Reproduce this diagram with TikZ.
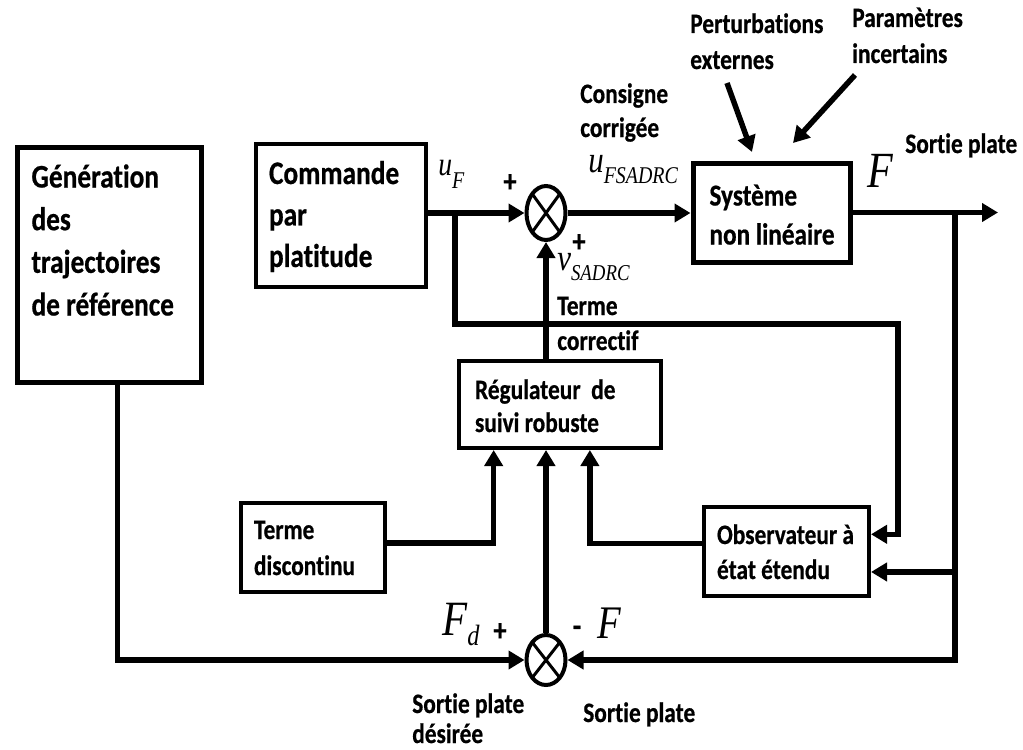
\documentclass[tikz,border=0pt]{standalone}
\usepackage{fontspec}
\usetikzlibrary{arrows.meta,shapes.geometric,calc}
\newfontfamily\calf{Carlito}[FakeStretch=0.83,Ligatures=NoCommon,FakeBold=0.6]
\newfontfamily\tmsf{Liberation Serif}[FakeStretch=0.83]
\newlength\px \setlength\px{0.75pt}
% box text: width, height, left pad, first-line strut, font, text
\newcommand\bxt[6]{\parbox[c][#2][t]{#1}{#5\leftskip=#3\relax\rule{0pt}{#4}#6}}
% multi-line label
\newcommand\tl[2]{\fontsize{21.1pt}{#1}\selectfont\begin{tabular}[t]{@{}l@{}}#2\end{tabular}}
% math-like label with subscript
\newcommand\msub[5]{{\tmsf\itshape\fontsize{#1}{#1}\selectfont #2\raisebox{-#5}{\fontsize{#3}{#3}\selectfont #4}}}
\tikzset{
  boxn/.style={draw, line width=3pt, inner sep=0pt, anchor=north west, font=\calf\bfseries},
  conn/.style={line width=4.1pt, -{Triangle[length=12pt,width=13.5pt]}},
  sumn/.style={ellipse, draw, line width=3pt, inner sep=0pt, minimum width=29.25pt,
    path picture={\draw[line width=2.25pt] (path picture bounding box.north west) -- (path picture bounding box.south east)
      (path picture bounding box.north east) -- (path picture bounding box.south west);}},
  lab/.style={anchor=base west, inner sep=0pt, font=\calf\bfseries},
  mlab/.style={anchor=base west, inner sep=0pt},
  pm/.style={inner sep=0pt, font=\calf\bfseries\fontsize{24pt}{24pt}\selectfont},
}
\begin{document}
\begin{tikzpicture}[x=0.75pt,y=-0.75pt]
\useasboundingbox[fill=white] (0,0) rectangle (1023,749);

% blocks
\node[boxn, line width=3.75pt] (gen) at (14.5,144.5)
  {\bxt{184\px}{235\px}{14.5\px}{40.5\px}{\fontsize{24.7pt}{32pt}\selectfont}{Génération\\des\\trajectoires\\de référence}};
\node[boxn] (cmd) at (254,142)
  {\bxt{170\px}{143\px}{13\px}{40\px}{\fontsize{24.7pt}{31.1pt}\selectfont}{Commande\\par\\platitude}};
\node[boxn, line width=3.75pt] (sys) at (690.5,160.5)
  {\bxt{157\px}{99\px}{16.5\px}{42.5\px}{\fontsize{22.8pt}{29.25pt}\selectfont}{Système\\non linéaire}};
\node[boxn] (reg) at (457,359)
  {\bxt{202\px}{87\px}{16\px}{38\px}{\fontsize{21.1pt}{24.75pt}\selectfont}{Régulateur\ \ de\\suivi robuste}};
\node[boxn] (disc) at (239,501)
  {\bxt{144\px}{89\px}{13\px}{36\px}{\fontsize{21.1pt}{27pt}\selectfont}{Terme\\discontinu}};
\node[boxn] (obs) at (702,505)
  {\bxt{165\px}{89\px}{13\px}{37\px}{\fontsize{21.1pt}{26.25pt}\selectfont}{Observateur à\\état étendu}};

% summing junctions
\node[sumn, minimum height=40.5pt] (s1) at (546,213) {};
\node[sumn, minimum height=37.5pt] (s2) at (546,660) {};

% helper points
\coordinate (b1) at (455,213);
\coordinate (c1) at (898,324);
\coordinate (oin1) at ($(obs.north east)!0.315!(obs.south east)$);
\coordinate (oin2) at ($(obs.north east)!0.72!(obs.south east)$);
\coordinate (b2) at (sys.east -| 955,0);
\coordinate (out) at (sys.east -| 998,0);
\coordinate (g1) at ($(gen.south west)!0.545!(gen.south east)$);
\coordinate (ow) at ($(obs.north west)!0.415!(obs.south west)$);
\coordinate (rin3) at ($(reg.south west)!0.645!(reg.south east)$);
\coordinate (tin) at ($(disc.north east)!0.45!(disc.south east)$);
\coordinate (rin1) at ($(reg.south west)!0.178!(reg.south east)$);
\coordinate (p1s) at (727,83);
\coordinate (p1e) at (752,152);
\coordinate (p2s) at (855,75);
\coordinate (p2e) at (793,143);

% connectors
\draw[conn] (cmd.east |- s1.west) -- (s1.west);
\draw[conn] (s1.east) -- (s1.east -| sys.west);
\draw[conn] (sys.east) -- (out);
\draw[conn] (b1) |- (c1) |- (oin1);
\draw[conn] (b2) |- (s2.east);
\draw[conn] (b2 |- oin2) -- (oin2);
\draw[conn] (g1) |- (s2.west);
\draw[conn] (s2.north) -- (s2.north |- reg.south);
\draw[conn] (ow) -| (rin3);
\draw[conn] (tin) -| (rin1);
\draw[conn] (reg.north -| s1.south) -- (s1.south);
\draw[conn] (p1s) -- (p1e);
\draw[conn] (p2s) -- (p2e);

% text labels
\node[lab] (pert) at (690,33) {\tl{27pt}{Perturbations\\externes}};
\node[lab] (param) at (852,27) {\tl{27pt}{Paramètres\\incertains}};
\node[lab] (cons) at (580,103) {\tl{25.5pt}{Consigne\\corrigée}};
\node[lab] (corr) at (557,315) {\tl{26.25pt}{Terme\\correctif}};
\node[lab] (sp1) at (905,153) {\fontsize{21.1pt}{26pt}\selectfont Sortie plate};
\node[lab] (spd) at (412,713) {\tl{22.5pt}{Sortie plate\\désirée}};
\node[lab] (sp2) at (583,722) {\fontsize{21.1pt}{26pt}\selectfont Sortie plate};

% math labels
\node[mlab] (uf) at (438,175) {\msub{25pt}{u}{18pt}{F}{13\px}};
\node[mlab] (ufs) at (588,172) {\msub{28pt}{u}{18pt}{FSADRC}{11\px}};
\node[mlab] (vs) at (557,270) {\msub{28pt}{v}{17pt}{SADRC}{10\px}};
\node[mlab] (ftop) at (867,187) {\tmsf\itshape\fontsize{38pt}{38pt}\selectfont F};
\node[mlab] (fd) at (442,635) {\msub{37pt}{F}{22pt}{d}{10\px}};
\node[mlab] (fb) at (597,638) {\tmsf\itshape\fontsize{35pt}{35pt}\selectfont F};

% signs
\node[pm] (pl1) at (510,183) {+};
\node[pm] (pl2) at (579,243) {+};
\node[pm] (pl3) at (500,632) {+};
\node[pm] (mi1) at (577,631) {-};
\end{tikzpicture}
\end{document}
